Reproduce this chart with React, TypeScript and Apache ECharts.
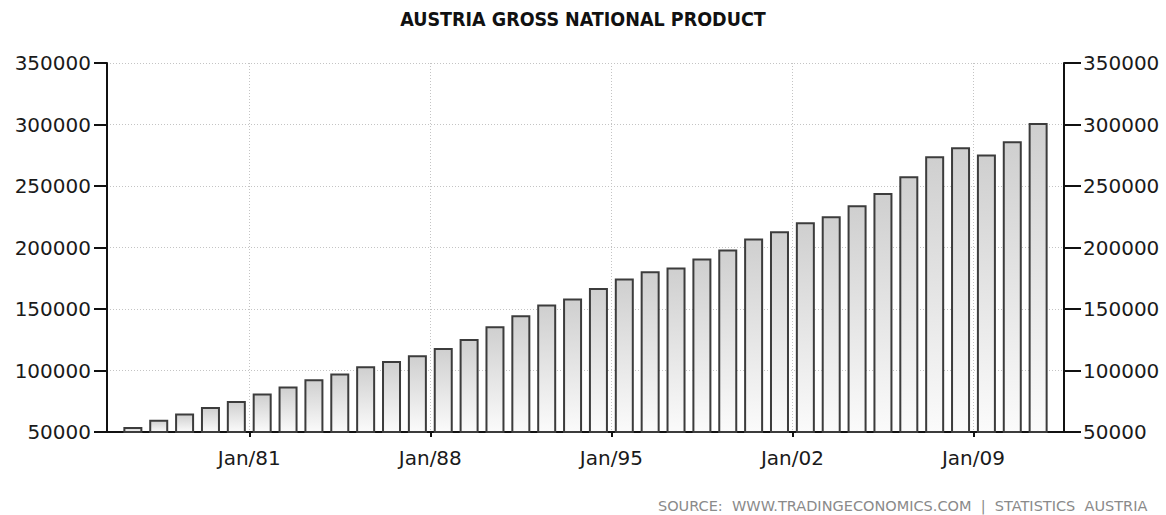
import React, { useEffect, useRef } from "react";
import * as echarts from "echarts";

const titleText = "AUSTRIA GROSS NATIONAL PRODUCT";
const sourceText = "SOURCE:  WWW.TRADINGECONOMICS.COM  |  STATISTICS  AUSTRIA";

const years = [
  1976, 1977, 1978, 1979, 1980, 1981, 1982, 1983, 1984, 1985, 1986, 1987,
  1988, 1989, 1990, 1991, 1992, 1993, 1994, 1995, 1996, 1997, 1998, 1999,
  2000, 2001, 2002, 2003, 2004, 2005, 2006, 2007, 2008, 2009, 2010, 2011,
];
const gnp = [
  54000, 60000, 65000, 70300, 75200, 81200, 86900, 92900, 97500, 103400, 107700, 112400,
  118300, 125600, 136000, 144900, 153600, 158500, 167100, 174800, 180700, 183700, 191000, 198300,
  207300, 213200, 220600, 225400, 234400, 244400, 258000, 274200, 281500, 275600, 286400, 301300,
];
const xTickYears = [1981, 1988, 1995, 2002, 2009];
const yMin = 50000;
const yMax = 350000;
const yStep = 50000;

export default function App() {
  const ref = useRef<HTMLDivElement>(null);
  useEffect(() => {
    if (!ref.current) return;
    const chart = echarts.init(ref.current, null, { renderer: "svg" });
    const font = "'DejaVu Sans', Verdana, sans-serif";
    const yAxisCommon = {
      type: "value" as const,
      min: yMin,
      max: yMax,
      interval: yStep,
      axisLine: { show: true, lineStyle: { color: "#111", width: 2 } },
    };
    const yLabel = {
      color: "#1a1a1a",
      fontSize: 20,
      fontFamily: font,
      formatter: (v: number) => String(v),
    };
    chart.setOption({
      animation: false,
      backgroundColor: "#fff",
      title: {
        text: titleText,
        left: "center",
        top: 4,
        textStyle: {
          fontFamily: "'DejaVu Sans Condensed', 'DejaVu Sans', sans-serif",
          fontWeight: "bold",
          fontSize: 19.5,
          color: "#111",
        },
      },
      graphic: [
        {
          type: "text",
          left: 658,
          top: 498,
          style: {
            text: sourceText,
            fill: "#8a8a8a",
            font: "14.5px 'DejaVu Sans', sans-serif",
          },
        },
      ],
      grid: { left: 107, right: 102, top: 63, bottom: 83, containLabel: false },
      xAxis: {
        type: "value",
        min: 1975.5,
        max: 2012.5,
        axisLine: { show: true, onZero: false, lineStyle: { color: "#111", width: 2 } },
        axisTick: {
          show: true,
          customValues: xTickYears,
          length: 5,
          lineStyle: { color: "#111", width: 2 },
        },
        axisLabel: {
          customValues: xTickYears,
          formatter: (v: number) => "Jan/" + String(v).slice(2),
          color: "#1a1a1a",
          fontSize: 20,
          fontFamily: font,
          margin: 16,
        },
        splitLine: {
          show: true,
          lineStyle: { color: "#c4c4c4", type: [1, 2], width: 1 },
        },
      },
      yAxis: [
        {
          ...yAxisCommon,
          position: "left",
          axisTick: { show: true, length: 13, lineStyle: { color: "#111", width: 2 } },
          axisLabel: { ...yLabel, margin: 16 },
          splitLine: {
            show: true,
            lineStyle: { color: "#c4c4c4", type: [1, 2], width: 1 },
          },
        },
        {
          ...yAxisCommon,
          position: "right",
          axisTick: { show: true, length: 17, lineStyle: { color: "#111", width: 2 } },
          axisLabel: { ...yLabel, margin: 19 },
          splitLine: { show: false },
        },
      ],
      series: [
        {
          type: "bar",
          data: years.map((y, i) => [y + 0.5, gnp[i]]),
          barWidth: 19,
          itemStyle: {
            color: new echarts.graphic.LinearGradient(0, 0, 0, 1, [
              { offset: 0, color: "#cfcfcf" },
              { offset: 1, color: "#fbfbfb" },
            ]),
            borderColor: "#3c3c3c",
            borderWidth: 2,
          },
        },
      ],
    });
    return () => chart.dispose();
  }, []);
  return (
    <div
      ref={ref}
      style={{ position: "fixed", left: 0, top: 0, width: 1166, height: 515 }}
    />
  );
}
